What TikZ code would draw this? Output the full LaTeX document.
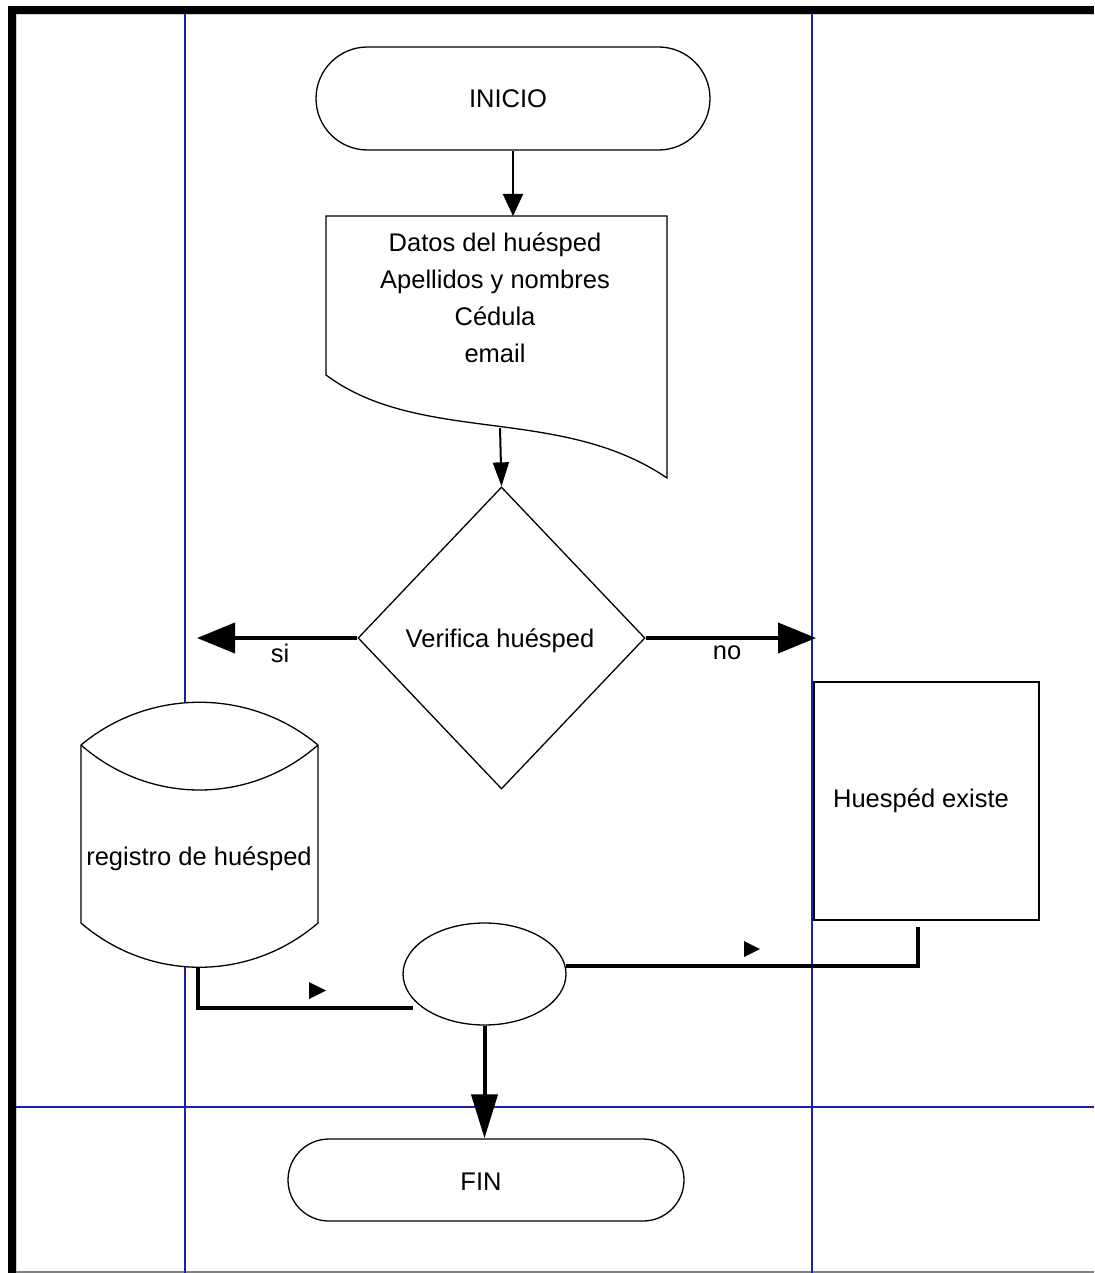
\documentclass[tikz,border=0pt]{standalone}
\usepackage{fontspec}
\setmainfont{Liberation Sans}
\usetikzlibrary{shapes.misc,shapes.geometric,arrows.meta}
\definecolor{lanecol}{RGB}{30,30,170}
\begin{document}
\begin{tikzpicture}[x=1pt,y=-1pt,
  every node/.style={font=\fontsize{25.5}{37}\selectfont, text=black},
  shape line/.style={draw=black,line width=1.3pt,fill=white},
  terminal/.style={shape line, rounded rectangle, inner sep=0pt},
  lane/.style={draw=lanecol,line width=2pt},
  flow/.style={draw=black,line width=4pt},
  link/.style={draw=black,line width=2pt},
  marker/.style={fill=black}
]
\useasboundingbox (0,0) rectangle (1094,1273);
\fill[white] (0,0) rectangle (1094,1273);

% frame
\fill[black] (8,6) rectangle (16,1273);
\fill[black] (8,6) rectangle (1094,14);
\draw[gray!40,line width=1pt] (16.5,1273) -- (16.5,14.5) -- (1094,14.5);
\draw[gray,line width=1.5pt] (16,1272) -- (1094,1272);

% swimlane separators
\draw[lane] (185,14) -- (185,1273);
\draw[lane] (812,14) -- (812,1273);
\draw[lane] (16,1107) -- (1094,1107);

% start
\node[terminal, minimum width=394pt, minimum height=103pt] (inicio) at (513,98.5) {};
\node at (508,99) {INICIO};

% input document
\draw[shape line] (326,216) -- (667,216) -- (667,478)
  .. controls (560,405) and (420,445) .. (326,375) -- cycle;
\node[align=center] (datos) at (495,298) {Datos del huésped\\Apellidos y nombres\\Cédula\\email};
\coordinate (doctop) at (513,216);
\coordinate (docbot) at (500,428);

% decision
\node[shape line, diamond, minimum width=287pt, minimum height=302pt, inner sep=0pt] (verif) at (501.5,638) {};
\node at (500,641) {Verifica huésped};
\coordinate (siend) at (197,638);
\coordinate (noend) at (816,638);

% database
\path[shape line] (81,745) .. controls (149.5,688) and (249.5,688) .. (318,745)
  -- (318,923) .. controls (249.5,982) and (149.5,982) .. (81,923) -- cycle;
\draw[line width=1.3pt] (81,745) .. controls (149.5,805) and (249.5,805) .. (318,745);
\node (registro) at (199,859) {registro de huésped};
\coordinate (cylbot) at (198,967);

% message box
\node[shape line, minimum width=225pt, minimum height=238pt, inner sep=0pt] (existe) at (926.5,801) {};
\node at (921,801) {Huespéd existe};
\coordinate (boxbot) at (918,927);

% junction
\node[shape line, ellipse, minimum width=163pt, minimum height=102pt, inner sep=0pt] (conn) at (484.5,974) {};
\coordinate (connleft) at (413,1008);
\coordinate (connright) at (566,966);

% end
\node[terminal, minimum width=396pt, minimum height=82pt] (fin) at (486,1180) {};
\node at (481,1182) {FIN};

% connectors
\draw[link, -{Triangle[length=22pt,width=20pt]}] (inicio.south) -- (doctop);
\draw[link, -{Triangle[length=24pt,width=16pt]}] (docbot) -- (verif.north);
\draw[flow, -{Triangle[length=38pt,width=30pt]}] (verif.west) -- (siend);
\draw[flow, -{Triangle[length=38pt,width=30pt]}] (verif.east) -- (noend);
\node at (280,653) {si};
\node at (727,653) {no};
\draw[flow] (cylbot) |- (connleft);
\draw[flow] (boxbot) |- (connright);
\draw[flow, -{Triangle[length=44pt,width=26pt]}] (conn.south) -- (conn.south |- fin.north);

% flow direction markers
\fill[marker] (309,982) -- (326,990.5) -- (309,999) -- cycle;
\fill[marker] (744,941) -- (760,949) -- (744,957) -- cycle;
\end{tikzpicture}
\end{document}
